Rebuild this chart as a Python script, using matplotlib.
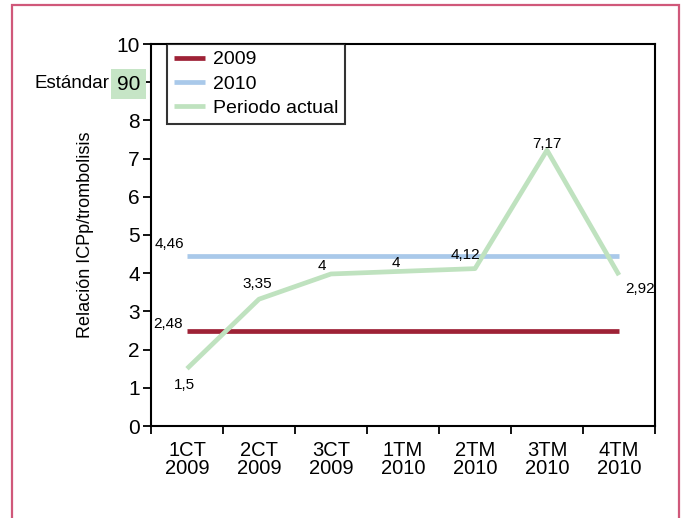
import matplotlib
matplotlib.use("Agg")
import matplotlib.pyplot as plt
from matplotlib.patches import Rectangle
import numpy as np

categories = ["1CT\n2009", "2CT\n2009", "3CT\n2009", "1TM\n2010", "2TM\n2010", "3TM\n2010", "4TM\n2010"]
serie_2009 = [2.48] * 7
serie_2010 = [4.46] * 7
periodo_actual = [1.5, 3.32, 3.98, 4.05, 4.12, 7.22, 3.95]
etiquetas_actual = ["1,5", "3,35", "4", "4", "4,12", "7,17", "2,92"]
etiqueta_2009 = "2,48"
etiqueta_2010 = "4,46"
yticks = list(range(11))
ytick_labels = ["0", "1", "2", "3", "4", "5", "6", "7", "8", "90", "10"]

plt.rcParams['font.family'] = ['Liberation Sans', 'DejaVu Sans']

W, H = 683, 518
fig = plt.figure(figsize=(W / 100, H / 100), dpi=100)
ax = fig.add_axes([151 / W, 1 - 426 / H, (655 - 151) / W, (426 - 44) / H])

red = '#9e2236'
blue = '#a9c9ea'
green = '#bfe2bf'

x = np.arange(len(categories))
ax.plot(x, serie_2009, color=red, lw=3.4, solid_capstyle='butt', label='2009', zorder=3)
ax.plot(x, serie_2010, color=blue, lw=3.4, solid_capstyle='butt', label='2010', zorder=3)
ax.plot(x, periodo_actual, color=green, lw=3.4, solid_capstyle='butt', label='Periodo actual', zorder=4)

ax.set_xlim(-0.5, len(categories) - 0.5)
ax.set_ylim(0, 10)

# labels
offsets = [(-3, -16), (-2, 15), (-9, 8), (-7, 8), (-10, 14), (0, 6), (21, -14)]
for i, (v, lab) in enumerate(zip(periodo_actual, etiquetas_actual)):
    ax.annotate(lab, xy=(x[i], v), xytext=offsets[i], textcoords='offset pixels',
                ha='center', va='center', fontsize=11, zorder=6)
ax.annotate(etiqueta_2010, xy=(x[0], serie_2010[0]), xytext=(-18, 12), textcoords='offset pixels',
            ha='center', va='center', fontsize=11, zorder=6)
ax.annotate(etiqueta_2009, xy=(x[0], serie_2009[0]), xytext=(-19, 7), textcoords='offset pixels',
            ha='center', va='center', fontsize=11, zorder=6)

# ticks
ax.set_yticks(yticks)
ax.set_yticklabels(ytick_labels, fontsize=15)
bounds = np.arange(len(categories) + 1) - 0.5
ax.set_xticks(bounds)
ax.set_xticklabels([''] * len(bounds))
ax.set_xticks(x, minor=True)
ax.set_xticklabels(categories, minor=True, fontsize=14.5, linespacing=0.9)
ax.tick_params(axis='x', which='minor', length=0, pad=11)
ax.tick_params(axis='x', which='major', direction='out', length=6, width=1.3)
ax.tick_params(axis='y', direction='out', length=6, width=1.3, pad=2)
for s in ax.spines.values():
    s.set_linewidth(1.5)

lab9 = ax.get_yticklabels()[9]
lab9.set_bbox(dict(facecolor='#c6e5c6', edgecolor='none', pad=4))

ax.set_ylabel('Relación ICPp/trombolisis', fontsize=13, labelpad=16)
fig.text(109 / W, 1 - 83 / H, 'Estándar', ha='right', va='center', fontsize=13.5)

leg = ax.legend(loc='upper left', bbox_to_anchor=(0.032, 1.0), borderaxespad=0,
                fontsize=14, frameon=True, fancybox=False, handlelength=1.6,
                labelspacing=0.35, borderpad=0.35, handletextpad=0.4)
leg.get_frame().set_edgecolor('black')
leg.get_frame().set_linewidth(1.5)

fig.patches.append(Rectangle((12 / W, -0.05), (679 - 12) / W, 1.05 - 5 / H,
                             transform=fig.transFigure, fill=False,
                             edgecolor='#d0587a', lw=1.6))

fig.savefig('out.png', dpi=100)
